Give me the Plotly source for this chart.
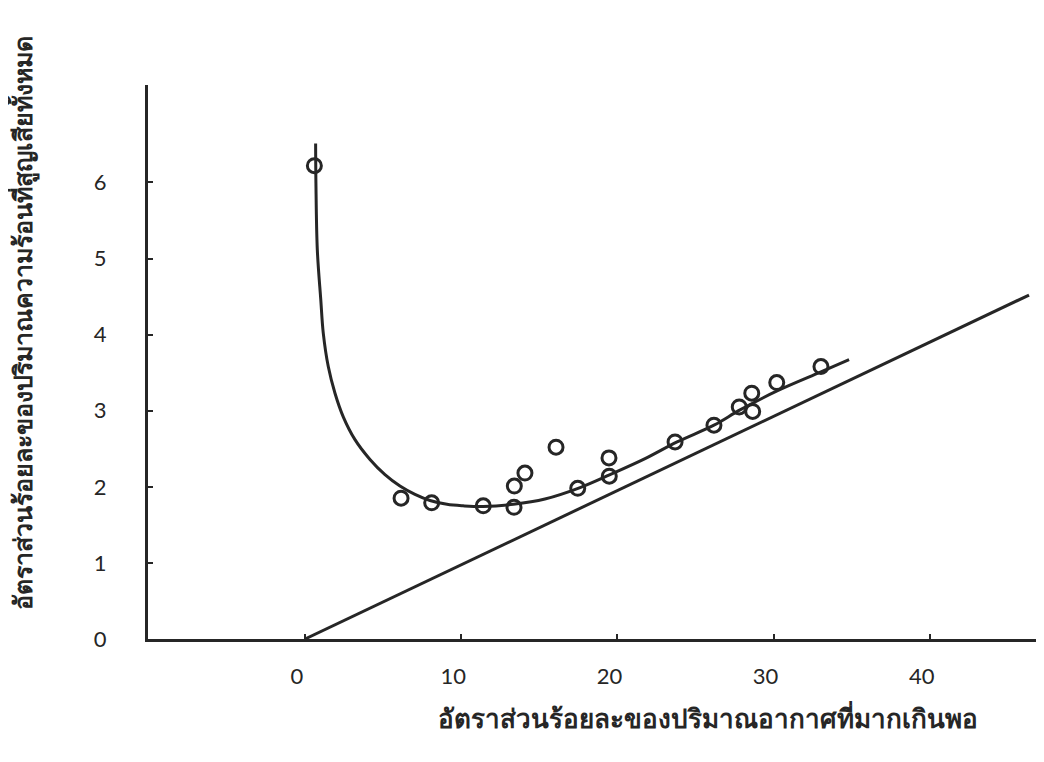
import plotly.graph_objects as go

# Observed data points (excess air %, total heat loss %)
pts_x = [0.6, 6.15, 8.11, 11.41, 13.38, 13.40, 14.08, 16.07, 17.46, 19.48, 19.46,
         23.69, 26.18, 27.80, 28.60, 28.66, 30.20, 33.03]
pts_y = [6.22, 1.85, 1.79, 1.75, 1.73, 2.01, 2.18, 2.52, 1.98, 2.14, 2.38,
         2.59, 2.81, 3.05, 3.23, 2.99, 3.37, 3.58]

# Hand-fitted curve
curve_x = [0.68, 0.70, 0.79, 1.01, 1.17, 1.49, 1.92, 2.45, 3.20, 4.16, 5.12, 6.08,
           7.04, 8.00, 9.09, 10.12, 11.41, 13.34, 15.36, 17.61, 19.53, 21.77, 23.82,
           26.18, 27.85, 30.22, 33.03, 34.83]
curve_y = [6.51, 5.99, 5.11, 4.46, 4.02, 3.58, 3.23, 2.92, 2.62, 2.36, 2.16, 2.01,
           1.90, 1.82, 1.77, 1.75, 1.74, 1.77, 1.84, 1.99, 2.16, 2.37, 2.59,
           2.81, 3.01, 3.26, 3.51, 3.67]

# Straight reference line
line_x = [0, 46.35]
line_y = [0, 4.52]

x_ticks = [0, 10, 20, 30, 40]
y_ticks = [0, 1, 2, 3, 4, 5, 6]

x_title = "อัตราส่วนร้อยละของปริมาณอากาศที่มากเกินพอ"
y_title = "อัตราส่วนร้อยละของปริมาณความร้อนที่สูญเสียทั้งหมด"

ink = "#262626"

fig = go.Figure()
fig.add_trace(go.Scatter(x=line_x, y=line_y, mode="lines",
                         line=dict(color=ink, width=3), showlegend=False))
fig.add_trace(go.Scatter(x=curve_x, y=curve_y, mode="lines",
                         line=dict(color=ink, width=3, shape="spline", smoothing=1.0),
                         showlegend=False))
fig.add_trace(go.Scatter(x=pts_x, y=pts_y, mode="markers",
                         marker=dict(symbol="circle-open", size=14, color=ink,
                                     line=dict(width=3, color=ink)),
                         showlegend=False))

fig.update_layout(
    width=1036, height=754,
    margin=dict(l=140, r=7, t=77, b=122.5),
    paper_bgcolor="white", plot_bgcolor="white",
    font=dict(family="Lato, DejaVu Sans, sans-serif", color=ink, size=22),
    xaxis=dict(range=[-10.05, 46.86], tickvals=x_ticks, ticktext=[str(v) for v in x_ticks],
               showgrid=False, zeroline=False, showline=True, linecolor=ink, linewidth=3,
               ticks="inside", ticklen=5, tickwidth=2, tickcolor=ink,
               ticklabelstandoff=16, ticklabelshift=-8),
    yaxis=dict(range=[0, 7.28], tickvals=y_ticks, ticktext=[str(v) for v in y_ticks],
               showgrid=False, zeroline=False, showline=True, linecolor=ink, linewidth=3,
               ticks="inside", ticklen=5, tickwidth=2, tickcolor=ink,
               ticklabelstandoff=34),
    annotations=[
        dict(text="<b>" + x_title + "</b>", xref="paper", yref="paper", x=0.63, y=-0.14,
             xanchor="center", yanchor="middle", showarrow=False,
             font=dict(size=26, color=ink)),
        dict(text="<b>" + y_title + "</b>", xref="paper", yref="paper", x=-0.1417, y=0.57,
             xanchor="center", yanchor="middle", showarrow=False, textangle=-90,
             font=dict(size=25, color=ink)),
    ],
)

fig.write_html("out.html")
